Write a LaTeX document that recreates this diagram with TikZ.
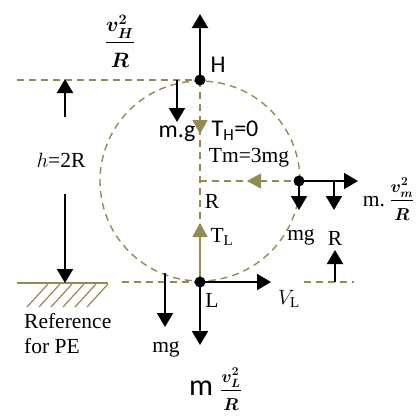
\documentclass[tikz,border=0pt]{standalone}
\usepackage{amsmath}
\usepackage{fontspec}
\setmainfont{Liberation Serif}
\newfontfamily\calib{Carlito}
\usetikzlibrary{arrows.meta}
\definecolor{olv}{HTML}{948A54}
\newcommand{\dstrut}{\rule{0pt}{1em}}
\begin{document}
\begin{tikzpicture}[x=1pt,y=-1pt,
 blk/.style={line width=2pt,-{Triangle[width=16pt,length=14pt]}},
 olvd/.style={draw=olv,line width=1.4pt,dash pattern=on 7pt off 5pt},
 olvtip/.style={draw=olv,line width=1.4pt,-{Triangle[width=15pt,length=14pt,fill=olv]}},
 dotn/.style={circle,fill=black,inner sep=0pt,minimum size=11pt},
 ser/.style={font=\fontsize{21.5}{25}\selectfont,inner sep=0pt},
 san/.style={font=\calib\fontsize{24}{28}\selectfont,inner sep=0pt},
 fracn/.style={font=\fontsize{17}{19}\selectfont\boldmath,inner sep=0pt},
]
\useasboundingbox (0,0) rectangle (419,415);
% key coordinates
\coordinate (cH) at (200,80);
\coordinate (cM) at (299,181);
\coordinate (cL) at (200,282);
\coordinate (O) at (200,181);
\coordinate (tl) at (17,80);
\coordinate (bl) at (122,282);
\coordinate (br1) at (304,282);
\coordinate (br2) at (354,282);
\coordinate (g1) at (17,283);
\coordinate (g2) at (108,283);
% olive dashed geometry
\draw[olvd] (O) circle[radius=100pt];
\draw[olvd] (tl) -- (cH);
\draw[olvd] (cH) -- (cL);
\draw[olvd] (O) -- (cM);
\draw[olvd] (bl) -- (cL);
\draw[olvd] (br1) -- (br2);
% ground
\draw[olv,line width=1.4pt] (g1) -- (g2);
\foreach \x in {27,39,51,63,75,87}
  \draw[olv,line width=1.2pt] (\x,307) -- (\x+21,284);
% olive arrows
\coordinate (tTL) at (200,223);
\draw[olvtip] (cL) -- (tTL);
\coordinate (dA) at (200,121);
\coordinate (dB) at (200,134);
\draw[olvtip] (dA) -- (dB);
\coordinate (lA) at (262,181);
\coordinate (lB) at (247,181);
\draw[olvtip] (lA) -- (lB);
% black arrows
\coordinate (up) at (200,14);
\draw[blk] (cH) -- (up);
\coordinate (mgA) at (177,80);
\coordinate (mgB) at (177,122);
\draw[blk] (mgA) -- (mgB);
\coordinate (hA) at (65,117);
\coordinate (hB) at (65,79);
\draw[blk] (hA) -- (hB);
\coordinate (hC) at (65,194);
\coordinate (hD) at (65,283);
\draw[blk] (hC) -- (hD);
\coordinate (wA) at (165,273);
\coordinate (wB) at (165,327);
\draw[blk] (wA) -- (wB);
\coordinate (Ld) at (200,345);
\draw[blk] (cL) -- (Ld);
\coordinate (Lr) at (271,282);
\draw[blk] (cL) -- (Lr);
\coordinate (Mr) at (358,181);
\draw[blk] (cM) -- (Mr);
\coordinate (Md) at (299,210);
\draw[blk] (cM) -- (Md);
\coordinate (RA) at (334,181);
\coordinate (RB) at (334,210);
\draw[blk] (RA) -- (RB);
\coordinate (RC) at (335,282);
\coordinate (RD) at (335,250);
\draw[blk] (RC) -- (RD);
% dots
\node[dotn] (H) at (cH) {};
\node[dotn] (M) at (cM) {};
\node[dotn] (L) at (cL) {};
% labels
\node[fracn,font=\fontsize{22}{24}\selectfont\boldmath] (fH) at (120,41) {$\dfrac{v_H^2}{\dstrut R}$};
\node[san] (lH) at (218,65) {H};
\node[san] (lmg) at (177,134) {m.g};
\node[san] (lTH) at (235,131) {T$_\text{H}$=0};
\node[ser] (lTm) at (249,158) {Tm=3mg};
\node[ser] (lR1) at (212,201) {R};
\node[ser] (lTL) at (222,237) {T$_\mathrm{L}$};
\node[ser] (lh) at (61,160) {$h$=2R};
\node[ser] (lmg2) at (301,237) {mg};
\node[ser] (lR2) at (335,238) {R};
\node[ser] (lmdot) at (374,202) {m.};
\node[fracn] (fM) at (402,199) {$\dfrac{v_m^2}{\dstrut R}$};
\node[ser] (lL) at (212,300) {L};
\node[ser] (lVL) at (289,299) {$V_{\mathrm{L}}$};
\node[ser,align=left,anchor=north west] (lref) at (24,313) {Reference\\for PE};
\node[ser] (lmg3) at (166,349) {mg};
\node[san,font=\calib\fontsize{30}{32}\selectfont] (lm) at (201,388) {m};
\node[fracn] (fL) at (231,389) {$\dfrac{v_L^2}{\dstrut R}$};
\end{tikzpicture}
\end{document}
